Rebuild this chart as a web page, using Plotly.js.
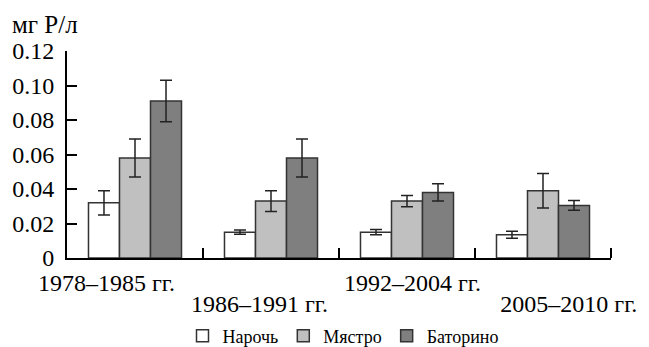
<!DOCTYPE html>
<html>
<head>
<meta charset="utf-8">
<script src="https://cdn.plot.ly/plotly-3.0.1.min.js"></script>
<style>html,body{margin:0;padding:0;background:#fff;}#chart{width:649px;height:347px;}</style>
</head>
<body>
<div id="chart"></div>
<script>
const categories = ['1978–1985 гг.', '1986–1991 гг.', '1992–2004 гг.', '2005–2010 гг.'];
const seriesNames = ['Нарочь', 'Мястро', 'Баторино'];
const naroch = [0.032, 0.015, 0.015, 0.0135];
const narochErr = [0.007, 0.0012, 0.0015, 0.002];
const myastro = [0.058, 0.033, 0.033, 0.039];
const myastroErr = [0.011, 0.006, 0.0033, 0.010];
const batorino = [0.091, 0.058, 0.038, 0.0305];
const batorinoErr = [0.012, 0.011, 0.005, 0.0028];
const yTickVals = [0, 0.02, 0.04, 0.06, 0.08, 0.10, 0.12];
const yTickText = ['0', '0.02', '0.04', '0.06', '0.08', '0.10', '0.12'];
const yTitle = 'мг Р/л';

// layout-only constants
const labelPos = [-0.21, 0.915, 2.04, 3.19];
const boundaries = [0.5, 1.5, 2.5, 3.5];
const colors = ['#ffffff', '#c0c0c0', '#7f7f7f'];
const FONT = 'Liberation Serif, Times New Roman, serif';

const xIdx = categories.map((c, i) => i);
const values = [naroch, myastro, batorino];
const errs = [narochErr, myastroErr, batorinoErr];

const traces = values.map((v, k) => ({
  type: 'bar',
  name: seriesNames[k],
  x: xIdx,
  y: v,
  marker: {color: colors[k], line: {color: '#333333', width: 1.5}},
  error_y: {type: 'data', array: errs[k], visible: true, color: '#222222', thickness: 1.5, width: 6},
  hoverinfo: 'skip'
}));
traces.push({type: 'scatter', x: [], y: [], xaxis: 'x2', yaxis: 'y', showlegend: false, hoverinfo: 'skip'});

const layout = {
  width: 649, height: 347,
  margin: {l: 67, r: 38, t: 51, b: 89},
  paper_bgcolor: '#ffffff', plot_bgcolor: '#ffffff',
  font: {family: FONT, size: 24, color: '#000'},
  barmode: 'group', bargap: 0.316, bargroupgap: 0,
  title: {text: yTitle, font: {family: FONT, size: 25, color: '#000'}, xref: 'container', x: 12/649, xanchor: 'left', yref: 'container', y: 1 - 24/347, yanchor: 'middle'},
  xaxis: {
    range: [-0.5, 3.5], fixedrange: true,
    showline: true, linecolor: '#000', linewidth: 2,
    showgrid: false, zeroline: false,
    tickmode: 'array', tickvals: [labelPos[0], labelPos[2]], ticktext: [categories[0], categories[2]],
    ticks: '', ticklabelstandoff: 2,
    minor: {tickmode: 'array', tickvals: boundaries, ticks: 'inside', ticklen: 10, tickwidth: 2, tickcolor: '#000', showgrid: false},
    tickfont: {family: FONT, size: 24, color: '#000'},
    automargin: false
  },
  xaxis2: {
    overlaying: 'x', anchor: 'y', side: 'bottom',
    range: [-0.5, 3.5], fixedrange: true,
    showline: false, showgrid: false, zeroline: false,
    tickmode: 'array', tickvals: [labelPos[1], labelPos[3]], ticktext: [categories[1], categories[3]],
    ticks: '', ticklabelstandoff: 29,
    tickfont: {family: FONT, size: 24, color: '#000'},
    automargin: false
  },
  yaxis: {
    range: [0, 0.12], fixedrange: true,
    showline: true, linecolor: '#000', linewidth: 2,
    showgrid: false, zeroline: false,
    tickmode: 'array', tickvals: yTickVals, ticktext: yTickText,
    ticks: 'inside', ticklen: 10, tickwidth: 2, tickcolor: '#000',
    ticklabelstandoff: 6,
    tickfont: {family: FONT, size: 24, color: '#000'},
    automargin: false
  },
  legend: {
    orientation: 'h', xref: 'container', yref: 'container',
    x: 343/649, xanchor: 'center', y: 1 - 336/347, yanchor: 'middle',
    font: {family: FONT, size: 18, color: '#000'},
    itemwidth: 30, tracegroupgap: 0, itemclick: false
  },
  showlegend: true
};

Plotly.newPlot('chart', traces, layout, {displayModeBar: false, staticPlot: true});
</script>
</body>
</html>
